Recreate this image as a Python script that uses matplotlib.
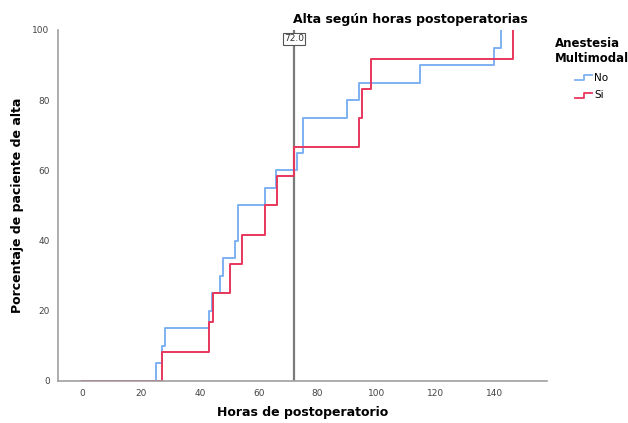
import numpy as np
import matplotlib
matplotlib.use('Agg')
import matplotlib.pyplot as plt
from matplotlib.legend_handler import HandlerBase
from matplotlib.lines import Line2D

# Kaplan-Meier style cumulative discharge curves (hours, percent)
horas_no = [0, 25, 27, 28, 43, 44, 47, 48, 52, 53, 62, 66, 73, 75, 90, 94, 115, 140, 142.5]
pct_no = [0, 5, 10, 15, 20, 25, 30, 35, 40, 50, 55, 60, 65, 75, 80, 85, 90, 95, 100]

horas_si = [0, 27.3, 43, 44.4, 50.3, 54.3, 62.2, 66.2, 72, 94.2, 95.1, 98.3, 146.4]
pct_si = [0, 8.33, 16.67, 25.0, 33.33, 41.67, 50.0, 58.33, 66.67, 75.0, 83.33, 91.67, 100]

mediana = 72.0
xticks = [0, 20, 40, 60, 80, 100, 120, 140]
yticks = [0, 20, 40, 60, 80, 100]

col_no = '#7eb1f2'
col_si = '#e8365c'


class StepHandler(HandlerBase):
    def create_artists(self, legend, orig_handle, xdescent, ydescent,
                       width, height, fontsize, trans):
        x = [0, width * 0.55, width * 0.55, width]
        y = [0.1 * height, 0.1 * height, 0.8 * height, 0.8 * height]
        ln = Line2D(x, y, color=orig_handle.get_color(), lw=1.3, transform=trans)
        return [ln]


fig = plt.figure(figsize=(6.28, 4.23), dpi=100)
ax = fig.add_axes([0.0924, 0.0993, 0.7786, 0.8298])

l1, = ax.step(horas_no, pct_no, where='post', color=col_no, lw=1.4, label='No')
l2, = ax.step(horas_si, pct_si, where='post', color=col_si, lw=1.4, label='Si')
ax.axvline(mediana, color='#7a7a7a', lw=1.6, zorder=1)
ax.text(mediana, 97.5, '72.0', ha='center', va='center', fontsize=6.5,
        color='#333333',
        bbox=dict(boxstyle='square,pad=0.15', fc='white', ec='#555555', lw=0.8))

ax.set_xlim(-8.2, 158)
ax.set_ylim(0, 100)
ax.set_xticks(xticks)
ax.set_yticks(yticks)
ax.tick_params(length=0, labelsize=6.5, colors='#444444', pad=6)
for s in ['top', 'right']:
    ax.spines[s].set_visible(False)
for s in ['left', 'bottom']:
    ax.spines[s].set_color('#a0a0a0')
    ax.spines[s].set_linewidth(1.2)

ax.set_xlabel('Horas de postoperatorio', fontsize=9, fontweight='bold')
ax.set_ylabel('Porcentaje de paciente de alta', fontsize=9, fontweight='bold')
ax.xaxis.set_label_coords(0.5, -0.072)
ax.yaxis.set_label_coords(-0.07, 0.5)
fig.text(0.653, 0.955, 'Alta según horas postoperatorias', ha='center', va='center',
         fontsize=9, fontweight='bold')

leg = fig.legend(handles=[l1, l2], handler_map={Line2D: StepHandler()},
                 title='Anestesia\nMultimodal', loc='upper left',
                 bbox_to_anchor=(0.868, 0.935), frameon=False, fontsize=7.5,
                 handlelength=1.7, handletextpad=0.2, labelspacing=0.75)
leg.get_title().set_fontweight('bold')
leg.get_title().set_fontsize(8.5)

fig.savefig('out.png', dpi=100)
